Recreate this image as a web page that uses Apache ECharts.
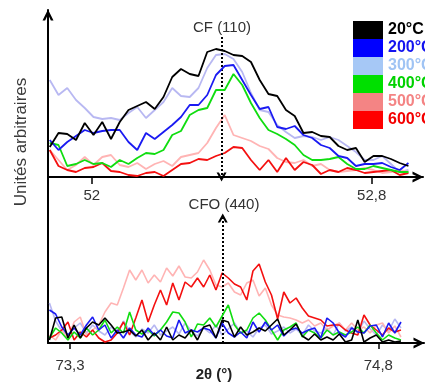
<!DOCTYPE html>
<html><head><meta charset="utf-8">
<script src="https://cdn.jsdelivr.net/npm/echarts@6/dist/echarts.min.js"></script>
<style>html,body{margin:0;padding:0;background:#fff;overflow:hidden}#c{width:425px;height:388px}</style>
</head><body><div id="c"></div>
<script>
// ---- data ----
const legendNames = ['20°C','200°C','300°C','400°C','500°C','600°C'];
const boxColors  = ['#000000','#0000ff','#a6c8f6','#00e000','#f48484','#ff0000'];
const textColors = ['#000000','#1414f0','#a0c4f4','#00d200','#f48484','#f40000'];
const lineColors = ['#000000','#1a1af2','#b8b8f2','#10dd10','#ffb4b4','#f41010'];

const topTicks = [52, 52.8];
const bottomTicks = [73.3, 74.8];
const topPeak = 52.371;      // CF (110)
const bottomPeak = 74.043;   // CFO (440)

const topTheta = [51.880,51.905,51.930,51.955,51.980,52.005,52.030,52.055,52.080,52.105,52.130,52.155,52.180,52.205,52.230,52.255,52.280,52.305,52.330,52.355,52.380,52.405,52.430,52.455,52.480,52.505,52.530,52.555,52.580,52.605,52.630,52.655,52.680,52.705,52.730,52.755,52.780,52.805,52.830,52.855,52.880,52.905];
const top20  = [30,44,43,37,54,42,55,38,55,67,71,75,68,80,100,108,103,101,125,128,126,122,121,115,97,83,81,67,61,44,45,41,40,31,27,29,15,21,21,18,14,11];
const top200 = [37,27,35,41,47,44,46,47,47,35,27,44,38,45,52,60,72,72,82,102,111,112,97,82,68,70,50,48,51,42,39,32,29,21,19,11,13,13,14,10,7,14];
const top300 = [97,82,89,77,69,60,58,59,57,64,70,59,67,75,89,81,80,89,109,122,123,118,105,84,67,65,52,45,39,41,40,37,40,37,31,25,17,17,21,13,5,7];
const top400 = [34,32,11,13,17,13,14,10,17,13,19,24,23,27,42,46,62,67,69,87,87,103,92,74,59,47,43,38,32,22,17,17,18,20,13,8,8,11,9,7,5,5];
const top500 = [27,17,7,12,20,12,20,22,12,10,14,8,13,16,11,20,22,24,34,49,62,42,39,36,31,28,19,15,14,17,11,13,7,5,6,7,9,7,4,5,7,5];
const top600 = [27,11,7,5,9,10,14,6,5,2,1,4,5,1,7,13,14,18,17,21,24,30,29,17,7,17,5,19,7,15,12,3,7,5,9,7,4,5,6,7,2,4];

const bottomTheta = [73.20,73.23,73.26,73.29,73.32,73.35,73.38,73.41,73.44,73.47,73.50,73.53,73.56,73.59,73.62,73.65,73.68,73.71,73.74,73.77,73.80,73.83,73.86,73.89,73.92,73.95,73.98,74.01,74.04,74.07,74.10,74.13,74.16,74.19,74.22,74.25,74.28,74.31,74.34,74.37,74.40,74.43,74.46,74.49,74.52,74.55,74.58,74.61,74.64,74.67,74.70,74.73,74.76,74.79,74.82,74.85,74.88,74.91];
const bot20  = [3,25,26,5,18,5,15,21,18,25,18,10,11,13,7,13,3,10,3,16,3,8,5,13,3,16,18,5,23,21,6,16,8,11,15,12,18,24,8,13,19,7,3,9,3,6,3,9,1,3,23,1,5,8,1,3,1,2];
const bot200 = [33,29,16,8,15,8,18,26,13,18,5,13,5,15,8,6,15,8,13,7,5,23,10,13,11,15,13,5,20,10,6,11,5,21,11,21,13,18,7,13,15,10,13,15,5,25,20,10,6,15,11,10,17,18,6,20,10,21];
const bot300 = [40,22,12,8,15,20,10,18,12,8,16,10,22,12,6,14,10,18,8,12,16,9,20,12,7,15,10,18,8,14,20,10,12,6,15,18,9,12,16,10,14,8,18,12,10,15,8,20,12,16,10,22,14,8,18,12,24,15];
const bot400 = [5,15,10,3,11,5,15,8,13,23,10,16,10,31,13,9,13,7,13,21,31,30,21,6,19,18,25,16,27,38,18,10,13,25,30,23,13,3,13,16,20,6,13,10,5,13,8,11,8,11,16,10,18,10,3,8,5,3];
const bot500 = [8,3,13,5,21,26,8,13,18,31,40,38,55,73,63,73,60,68,61,75,67,77,66,65,71,83,73,58,56,60,51,48,60,63,47,55,38,28,26,25,23,20,23,17,20,13,17,20,13,20,13,16,10,18,20,10,17,6];
const bot600 = [5,8,13,21,3,11,6,13,5,1,3,10,21,8,25,43,21,38,53,38,60,43,61,56,65,56,68,53,70,65,59,56,43,72,79,61,48,24,51,40,45,35,27,25,23,17,18,18,13,10,8,28,18,13,8,15,11,13];

// ---- chart ----
const FONT = 'Liberation Sans, Noto Sans, sans-serif';
const chevron = 'path://M0,10 L5,0 L10,10 L7.6,10 L5,4.6 L2.4,10 Z';
const pair = (xs, ys) => xs.map((x, i) => [x, ys[i]]);
const fmt = v => String(+v.toFixed(1)).replace('.', ',');

const topSets = [top20, top200, top300, top400, top500, top600];
const botSets = [bot20, bot200, bot300, bot400, bot500, bot600];
const drawOrder = [2, 4, 5, 3, 1, 0];

function makeSeries(gridIdx, xs, sets, peak, peakTop, arrowUp) {
  const out = [];
  drawOrder.forEach((k, j) => {
    out.push({
      type: 'line', name: legendNames[k], xAxisIndex: gridIdx, yAxisIndex: gridIdx,
      data: pair(xs, sets[k]), showSymbol: false, symbol: 'none', silent: true,
      lineStyle: { color: lineColors[k], width: gridIdx === 0 ? 1.8 : 1.6 },
      itemStyle: { color: lineColors[k] }, z: 2 + j
    });
  });
  out.push({
    type: 'line', xAxisIndex: gridIdx, yAxisIndex: gridIdx, data: [], silent: true, z: 20,
    markLine: {
      silent: true, animation: false, symbol: ['none', chevron], symbolSize: [10, 9],
      label: { show: false },
      lineStyle: { color: '#000', type: 'dotted', width: 2 },
      data: [arrowUp ? [{ coord: [peak, 0] }, { coord: [peak, peakTop] }]
                     : [{ coord: [peak, peakTop] }, { coord: [peak, 0] }]]
    }
  });
  return out;
}

const axisLineBase = { show: true, lineStyle: { color: '#000', width: 2 } };

const option = {
  animation: false,
  backgroundColor: '#fff',
  grid: [
    { left: 48, right: 2, top: 10, height: 167 },
    { left: 48, right: 1, top: 177, height: 166 }
  ],
  xAxis: [
    { gridIndex: 0, type: 'value', min: 51.875, max: 52.9466,
      axisLine: Object.assign({}, axisLineBase, { onZero: false, symbol: ['none', chevron], symbolSize: [12, 11], symbolOffset: [0, -5] }),
      axisTick: { show: true, customValues: topTicks, length: 7, lineStyle: { color: '#000', width: 1.5 } },
      axisLabel: { customValues: topTicks, formatter: fmt, margin: 11, fontSize: 15, color: '#333', fontFamily: FONT },
      splitLine: { show: false } },
    { gridIndex: 1, type: 'value', min: 73.193, max: 75.022,
      axisLine: Object.assign({}, axisLineBase, { onZero: false, symbol: ['none', chevron], symbolSize: [12, 11], symbolOffset: [0, -5] }),
      axisTick: { show: true, customValues: bottomTicks, length: 6, lineStyle: { color: '#000', width: 1.5 } },
      axisLabel: { customValues: bottomTicks, formatter: fmt, margin: 15, fontSize: 15, color: '#333', fontFamily: FONT },
      splitLine: { show: false } }
  ],
  yAxis: [
    { gridIndex: 0, type: 'value', min: 0, max: 167,
      axisLine: Object.assign({}, axisLineBase, { symbol: ['none', chevron], symbolSize: [13, 11], symbolOffset: [0, -5] }),
      axisTick: { show: false }, axisLabel: { show: false }, splitLine: { show: false } },
    { gridIndex: 1, type: 'value', min: 0, max: 166,
      axisLine: axisLineBase, axisTick: { show: false }, axisLabel: { show: false }, splitLine: { show: false } }
  ],
  legend: {
    orient: 'vertical', left: 348, top: 16, itemWidth: 30, itemHeight: 18, itemGap: 0,
    icon: 'rect', selectedMode: false,
    itemStyle: { borderWidth: 0 },
    textStyle: { fontFamily: FONT, fontSize: 16, fontWeight: 'bold', lineHeight: 18 },
    data: legendNames.map((n, i) => ({ name: n, itemStyle: { color: boxColors[i], borderWidth: 0 }, textStyle: { color: textColors[i] } }))
  },
  graphic: [
    { type: 'text', x: 21, y: 142, rotation: Math.PI / 2, style: { text: 'Unités arbitraires', fill: '#3a3a3a', font: '17px ' + FONT, align: 'center', verticalAlign: 'middle' } },
    { type: 'text', x: 222, y: 28, style: { text: 'CF (110)', fill: '#333', font: '15px ' + FONT, align: 'center', verticalAlign: 'middle' } },
    { type: 'text', x: 224, y: 205, style: { text: 'CFO (440)', fill: '#333', font: '15px ' + FONT, align: 'center', verticalAlign: 'middle' } },
    { type: 'text', x: 214, y: 375, style: { text: '2θ (°)', fill: '#222', font: 'bold 15px ' + FONT, align: 'center', verticalAlign: 'middle' } }
  ],
  series: [].concat(
    makeSeries(0, topTheta, topSets, topPeak, 140, false),
    makeSeries(1, bottomTheta, botSets, bottomPeak, 125, true)
  )
};

const chart = echarts.init(document.getElementById('c'), null, { renderer: 'canvas' });
chart.setOption(option);
</script>
</body></html>
